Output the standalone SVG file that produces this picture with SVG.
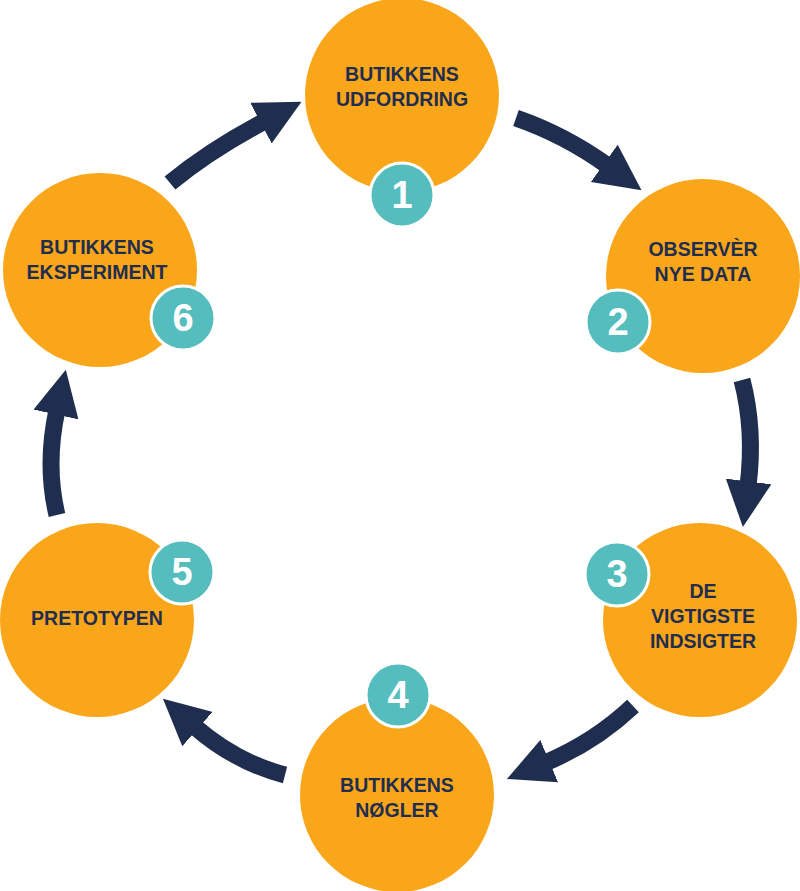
<svg xmlns="http://www.w3.org/2000/svg" width="800" height="891" viewBox="0 0 800 891">
<style>
.c{fill:#FAA61A}
.b{fill:#55BDBD;stroke:#fff;stroke-width:3}
.t{font-family:"Liberation Sans",Arial,sans-serif;font-weight:bold;font-size:19.5px;fill:#1F2D4E;text-anchor:middle}
.n{font-family:"Liberation Sans",Arial,sans-serif;font-weight:bold;font-size:38px;fill:#fff;text-anchor:middle}
.a{fill:none;stroke:#1F2D4E;stroke-width:17;marker-end:url(#h)}
</style>
<defs><marker id="h" viewBox="0 0 10 10" refX="1" refY="5" markerWidth="2.7" markerHeight="2.7" orient="auto"><path d="M0,0 L10,5 L0,10 z" fill="#1F2D4E"/></marker></defs>
<g id="connectors">
<path class="a" d="M170,183 Q210,150 265,121"/>
<path class="a" d="M516,118 Q565,135 608,166"/>
<path class="a" d="M742,380 Q755,430 748,486"/>
<path class="a" d="M633,706 Q595,742 545,763"/>
<path class="a" d="M285,775 Q235,762 194,726"/>
<path class="a" d="M57,515 Q45,465 57,410"/>
</g>
<g id="n1"><circle class="c" cx="402" cy="95" r="97"/><text class="t" x="402" y="81">BUTIKKENS</text><text class="t" x="402" y="106">UDFORDRING</text><circle class="b" cx="402" cy="195" r="32"/><text class="n" x="402" y="208">1</text></g>
<g id="n2"><circle class="c" cx="703" cy="276" r="97"/><text class="t" x="703" y="256">OBSERVÈR</text><text class="t" x="703" y="281">NYE DATA</text><circle class="b" cx="618" cy="322" r="32"/><text class="n" x="618" y="335">2</text></g>
<g id="n3"><circle class="c" cx="700" cy="620" r="97"/><text class="t" x="703" y="598">DE</text><text class="t" x="703" y="623">VIGTIGSTE</text><text class="t" x="703" y="648">INDSIGTER</text><circle class="b" cx="617" cy="574" r="32"/><text class="n" x="617" y="587">3</text></g>
<g id="n4"><circle class="c" cx="397" cy="795" r="97"/><text class="t" x="397" y="792">BUTIKKENS</text><text class="t" x="397" y="817">NØGLER</text><circle class="b" cx="398" cy="695" r="32"/><text class="n" x="398" y="708">4</text></g>
<g id="n5"><circle class="c" cx="97" cy="620" r="97"/><text class="t" x="97" y="625">PRETOTYPEN</text><circle class="b" cx="182" cy="572" r="32"/><text class="n" x="182" y="585">5</text></g>
<g id="n6"><circle class="c" cx="100" cy="270" r="97"/><text class="t" x="97" y="254">BUTIKKENS</text><text class="t" x="97" y="279">EKSPERIMENT</text><circle class="b" cx="183" cy="318" r="32"/><text class="n" x="183" y="331">6</text></g>
</svg>
